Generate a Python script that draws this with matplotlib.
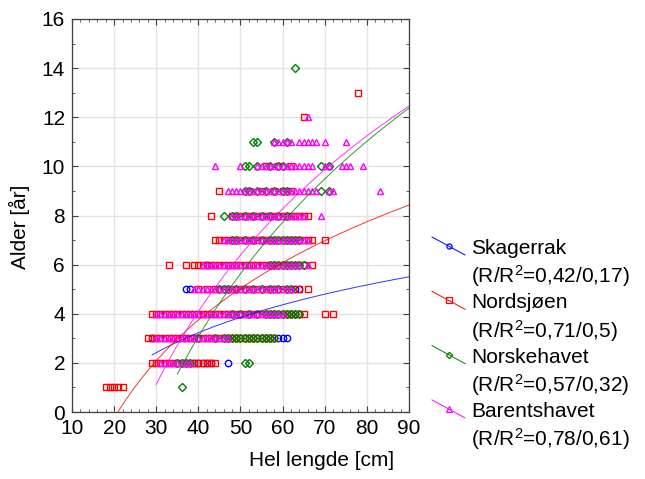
import numpy as np
import matplotlib
matplotlib.use('Agg')
import matplotlib.pyplot as plt
from matplotlib.lines import Line2D
from matplotlib.ticker import MultipleLocator

plt.rcParams['font.family'] = ['Liberation Sans', 'DejaVu Sans']
plt.rcParams['mathtext.fontset'] = 'custom'
plt.rcParams['mathtext.rm'] = 'Liberation Sans'
plt.rcParams['mathtext.default'] = 'regular'

# (alder, [lengder i cm]) per område
skagerrak = [
    (2, [39, 40, 41, 42, 43, 47]),
    (3, [29, 49, 53, 55, 56, 57, 59, 60, 61]),
    (4, [58, 60, 61, 62, 63, 64]),
    (5, [37, 38, 45, 58, 63, 64]),
    (6, [42]),
]

nordsjoen = [
    (1, [18, 19, 20, 21, 22]),
    (2, [29, 30, 31, 32, 33, 34, 35, 36, 37, 38, 39, 40, 41, 42, 43, 44]),
    (3, [28, 29, 30, 31, 32, 33, 34, 35, 36, 37, 38, 39, 40, 41, 42, 43, 44, 45,
         46, 47, 48, 49, 50, 51, 52, 53, 54, 55, 56, 57, 58]),
    (4, [29, 30, 31, 32, 33, 34, 35, 36, 37, 38, 39, 40, 41, 42, 43, 44, 45, 46,
         47, 48, 49, 50, 51, 52, 53, 54, 55, 56, 57, 58, 59, 60, 61, 62, 63, 64,
         65, 70, 72]),
    (5, [40, 42, 44, 46, 48, 50, 52, 54, 56, 58, 60, 62, 64, 66]),
    (6, [33, 37, 39, 40, 41, 42, 43, 44, 45, 46, 47, 48, 49, 50, 51, 52, 53, 54,
         55, 56, 57, 58, 59, 60, 61, 62, 63, 64, 65, 67]),
    (7, [44, 45, 46, 47, 48, 49, 50, 51, 52, 53, 54, 55, 56, 57, 58, 59, 60, 61,
         62, 63, 64, 65, 66, 67, 70]),
    (8, [43, 48, 49, 50, 51, 52, 53, 54, 55, 56, 57, 58, 59, 60, 61, 62, 63, 64,
         65, 66]),
    (9, [45, 52, 55, 58, 60, 62]),
    (10, [56, 59, 62]),
    (12, [65]),
    (13, [78]),
]

norskehavet = [
    (1, [36]),
    (2, [35, 36, 37, 38, 51, 52]),
    (3, [40, 44, 46, 47, 48, 49, 50, 51, 52, 53, 54, 55, 56, 57, 58]),
    (4, [48, 50, 52, 54, 56, 57, 58, 59, 60, 61, 62, 63, 64]),
    (5, [45, 46, 47, 49, 51, 53, 55, 57, 59, 61, 62]),
    (6, [57, 58, 59, 60, 61, 62, 63, 64, 65]),
    (7, [48, 49, 51, 53, 55, 57, 58, 59, 60, 61, 62, 63, 64]),
    (8, [46, 48, 49, 51, 53, 55, 57, 59, 61]),
    (9, [51, 52, 54, 56, 58, 60, 61, 69, 71]),
    (10, [51, 52, 54, 57, 59, 60, 69, 71]),
    (11, [53, 54, 58, 61]),
    (14, [63]),
]

barentshavet = [
    (2, [31, 32, 33, 34, 35, 36, 37, 38]),
    (3, [30, 31, 32, 33, 34, 35, 36, 37, 38, 39, 40, 41, 42, 43, 44, 45, 46, 47]),
    (4, [30, 31, 32, 33, 34, 35, 36, 37, 38, 39, 40, 41, 42, 43, 44, 45, 46, 47,
         48, 49, 50, 51, 52, 53, 54, 55, 56, 57, 58, 59, 60]),
    (5, [39, 40, 41, 42, 43, 44, 45, 46, 47, 48, 49, 50, 51, 52, 53, 54, 55, 56,
         57, 58, 59, 60, 61, 62]),
    (6, [41, 42, 43, 44, 45, 46, 47, 48, 49, 50, 51, 52, 53, 54, 55, 56, 57, 58,
         59, 60, 61, 62, 63, 64, 66]),
    (7, [46, 47, 48, 49, 50, 51, 52, 53, 54, 55, 56, 57, 58, 59, 60, 61, 62, 63,
         64, 65, 66]),
    (8, [48, 49, 50, 51, 52, 53, 54, 55, 56, 57, 58, 59, 60, 61, 62, 63, 64, 65,
         69]),
    (9, [47, 48, 49, 50, 51, 52, 53, 54, 55, 56, 57, 58, 59, 60, 61, 62, 63, 64,
         65, 66, 67, 68, 71, 72, 83]),
    (10, [44, 50, 54, 55, 56, 57, 58, 59, 60, 61, 62, 63, 64, 65, 66, 67, 70, 71,
          74, 75, 76, 79]),
    (11, [58, 59, 60, 61, 62, 64, 65, 66, 67, 68, 70, 75]),
    (12, [66]),
]

names = ['Skagerrak', 'Nordsjøen', 'Norskehavet', 'Barentshavet']
stats = ['0,42/0,17', '0,71/0,5', '0,57/0,32', '0,78/0,61']
# logaritmisk tilpasning: alder = a + b*ln(lengde)
fit_a = [-7.14, -17.54, -39.24, -33.94]
fit_b = [2.81, 5.77, 11.47, 10.31]

colors = ['#0000ff', '#ff0000', '#008000', '#ff00ff']
markers = ['o', 's', 'D', '^']
msizes = [4.6, 5.0, 4.0, 5.0]

fig = plt.figure(figsize=(6.45, 4.79), dpi=100)
ax = fig.add_axes([72 / 645, 67 / 479, 337 / 645, 393 / 479])

groups = [skagerrak, nordsjoen, norskehavet, barentshavet]
for i, grp in enumerate(groups):
    xs = []
    ys = []
    for age, lens in grp:
        xs.extend(lens)
        ys.extend([age] * len(lens))
    ax.plot(xs, ys, linestyle='none', marker=markers[i], ms=msizes[i],
            mfc='none', mec=colors[i], mew=1.0, zorder=3)

for i, grp in enumerate(groups):
    xmin = min(min(lens) for age, lens in grp)
    xx = np.linspace(xmin, 90, 200)
    ax.plot(xx, fit_a[i] + fit_b[i] * np.log(xx), color=colors[i], lw=0.7,
            alpha=0.8, zorder=4)

ax.set_xlim(10, 90)
ax.set_ylim(0, 16)
ax.xaxis.set_major_locator(MultipleLocator(10))
ax.xaxis.set_minor_locator(MultipleLocator(2))
ax.yaxis.set_major_locator(MultipleLocator(2))
ax.yaxis.set_minor_locator(MultipleLocator(1))
ax.tick_params(which='both', direction='in', top=True, right=True,
               labelsize=15, color='#404040')
ax.tick_params(which='major', length=4, width=0.8, pad=5)
ax.tick_params(which='minor', length=2.5, width=0.6)
ax.grid(True, which='major', color='#e3e3e3', lw=1.0, zorder=0)
ax.set_axisbelow(True)
for sp in ax.spines.values():
    sp.set_color('#404040')
    sp.set_linewidth(0.9)

ax.set_xlabel('Hel lengde [cm]', fontsize=15)
ax.xaxis.set_label_coords(0.742, -0.10)
ax.set_ylabel('Alder [år]', fontsize=15)
ax.yaxis.set_label_coords(-0.125, 0.47)

# forklaring til høyre
W, H = 645, 479
for i in range(4):
    base = 254 + 54.3 * i
    fig.add_artist(Line2D([432 / W, 465 / W], [1 - (base - 17) / H, 1 - (base + 1) / H],
                          color=colors[i], lw=0.7, transform=fig.transFigure))
    fig.add_artist(Line2D([448.5 / W], [1 - (base - 8) / H], marker=markers[i],
                          ms=msizes[i] * 0.8, mfc='none', mec=colors[i], mew=0.9,
                          transform=fig.transFigure))
    fig.text(471 / W, 1 - base / H, names[i], fontsize=15, va='baseline')
    fig.text(471 / W, 1 - (base + 29) / H, '(R/R$^2$=' + stats[i] + ')',
             fontsize=15, va='baseline')

fig.savefig('out.png', dpi=100)
